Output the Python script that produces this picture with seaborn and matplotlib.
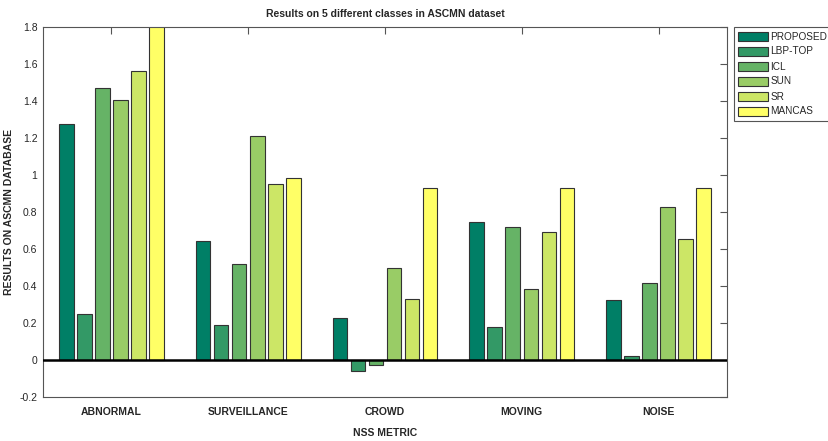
import matplotlib
matplotlib.use("Agg")
import matplotlib.pyplot as plt
import seaborn as sns
import pandas as pd

classes = ["ABNORMAL", "SURVEILLANCE", "CROWD", "MOVING", "NOISE"]
methods = ["PROPOSED", "LBP-TOP", "ICL", "SUN", "SR", "MANCAS"]
proposed = [1.274, 0.641, 0.227, 0.744, 0.326]
lbp_top = [0.247, 0.187, -0.060, 0.178, 0.020]
icl = [1.469, 0.517, -0.028, 0.719, 0.414]
sun = [1.404, 1.213, 0.500, 0.382, 0.827]
sr = [1.562, 0.950, 0.330, 0.690, 0.652]
mancas = [1.83, 0.986, 0.928, 0.928, 0.928]
colors = ["#007f66", "#339966", "#66b366", "#99cc66", "#cce666", "#ffff66"]

rows = []
for m, vals in zip(methods, [proposed, lbp_top, icl, sun, sr, mancas]):
    for c, v in zip(classes, vals):
        rows.append({"class": c, "method": m, "value": v})
df = pd.DataFrame(rows)

sns.set_style("white")
plt.rcParams["font.family"] = ["Liberation Sans", "DejaVu Sans"]

fig = plt.figure(figsize=(8.29, 4.41), dpi=100)
ax = fig.add_axes([43 / 829, 44 / 441, 684 / 829, 370 / 441])

sns.barplot(data=df, x="class", y="value", hue="method", order=classes,
            hue_order=methods, palette=colors, saturation=1, width=0.79, gap=0.19,
            edgecolor="#333333", linewidth=0.8, ax=ax, legend=True)

ax.axhline(0, color="black", lw=1.8, zorder=5)
ax.set_xlim(-0.5, 4.5)
ax.set_ylim(-0.2, 1.8)
yt = [-0.2, 0, 0.2, 0.4, 0.6, 0.8, 1, 1.2, 1.4, 1.6, 1.8]
ax.set_yticks(yt)
ax.set_yticklabels(["-0.2", "0", "0.2", "0.4", "0.6", "0.8", "1", "1.2", "1.4", "1.6", "1.8"],
                   fontsize=7.5)
ax.set_xticks(range(len(classes)))
ax.set_xticklabels(classes, fontsize=7.5, fontweight="bold")
ax.tick_params(direction="in", length=5, width=0.8, top=True, right=True,
               color="#555555")
ax.tick_params(axis="x", pad=7)
ax.tick_params(axis="y", pad=4)
for s in ax.spines.values():
    s.set_color("#555555")
    s.set_linewidth(0.8)

ax.set_xlabel("NSS METRIC", fontsize=7.5, fontweight="bold", labelpad=8)
ax.set_ylabel("RESULTS ON ASCMN DATABASE", fontsize=7.5, fontweight="bold", labelpad=4)
ax.set_title("Results on 5 different classes in ASCMN dataset", fontsize=7.5,
             fontweight="bold", pad=7)

leg = ax.legend(loc="upper left", bbox_to_anchor=(734 / 829, 1 - 27 / 441),
                bbox_transform=fig.transFigure, borderaxespad=0, fontsize=7.2,
                handlelength=3.0, handleheight=1.0, labelspacing=0.5,
                handletextpad=0.2, borderpad=0.45, fancybox=False, framealpha=1)
leg.get_frame().set_edgecolor("#555555")
leg.get_frame().set_linewidth(0.8)

fig.savefig("out.png", dpi=100)
